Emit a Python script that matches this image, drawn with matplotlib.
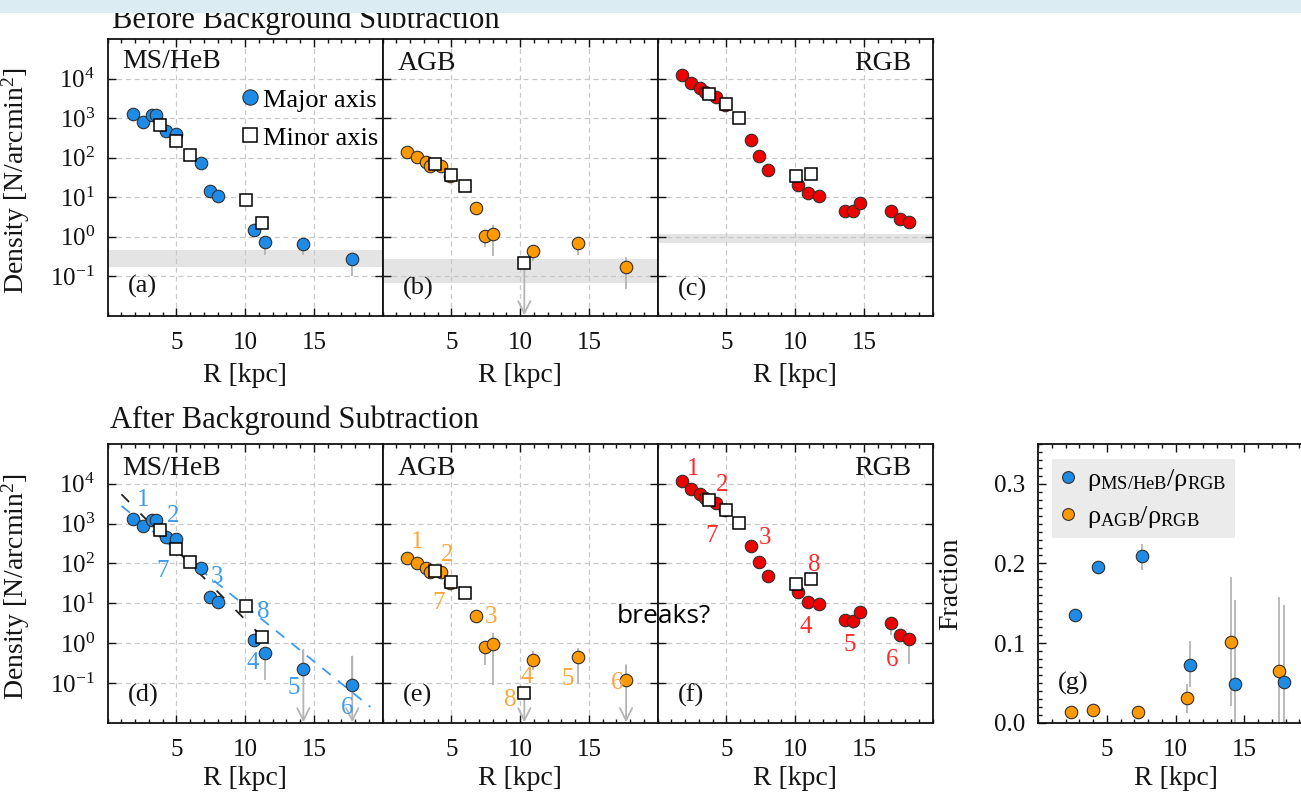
import numpy as np
import matplotlib
matplotlib.use('Agg')
import matplotlib.pyplot as plt
from matplotlib.lines import Line2D
from matplotlib.patches import Rectangle
from matplotlib.ticker import MultipleLocator, FixedLocator, NullLocator

plt.rcParams['font.family'] = 'Liberation Serif'
plt.rcParams['mathtext.fontset'] = 'custom'
plt.rcParams['mathtext.rm'] = 'Liberation Serif'
plt.rcParams['mathtext.it'] = 'Liberation Serif:italic'
plt.rcParams['mathtext.default'] = 'regular'

nan = np.nan

# ---- MS/HeB profile (major axis) ----
R_MS = [1.82, 2.55, 3.20, 3.49, 4.22, 4.97, 6.81, 7.44, 8.05, 10.64, 11.44, 14.23, 17.79]
MS_BEFORE = [1290, 815, 1200, 1200, 470, 400, 74, 14, 10.7, 1.45, 0.74, 0.66, 0.27]
MS_BEFORE_LO = [nan, nan, nan, nan, nan, nan, nan, nan, nan, nan, 0.35, 0.35, 0.10]
MS_BEFORE_HI = [nan] * 13
MS_AFTER = [1320, 850, 1200, 1200, 457, 400, 76, 14.1, 10.7, 1.2, 0.55, 0.22, 0.087]
MS_AFTER_LO = [nan, nan, nan, nan, nan, nan, nan, nan, nan, nan, 0.12, nan, nan]
MS_AFTER_HI = [nan, nan, nan, nan, nan, nan, nan, nan, nan, nan, 0.80, 0.68, 0.46]
MS_AFTER_UPLIM = [False] * 11 + [True, True]

# ---- AGB profile (major axis) ----
R_AGB = [1.79, 2.47, 3.15, 3.44, 4.22, 4.89, 6.81, 7.42, 8.04, 10.95, 14.20, 17.70]
AGB_BEFORE = [141, 102, 78, 62, 62, 34, 5.3, 1.03, 1.17, 0.44, 0.68, 0.17]
AGB_BEFORE_LO = [nan, nan, nan, nan, nan, nan, nan, 0.54, 0.32, 0.24, 0.34, 0.047]
AGB_BEFORE_HI = [nan, nan, nan, nan, nan, nan, nan, nan, 2.0, nan, nan, 0.30]
AGB_AFTER = [141, 102, 76, 60, 60, 32, 4.9, 0.81, 0.93, 0.37, 0.44, 0.117]
AGB_AFTER_LO = [nan, nan, nan, nan, nan, nan, nan, 0.28, 0.087, 0.21, 0.098, nan]
AGB_AFTER_HI = [nan, nan, nan, nan, nan, nan, nan, nan, 1.78, 0.65, 0.76, 0.28]
AGB_AFTER_UPLIM = [False] * 11 + [True]

# ---- RGB profile (major axis) ----
R_RGB = [1.76, 2.44, 3.09, 3.45, 4.23, 4.91, 6.78, 7.38, 7.99, 10.17, 10.95, 11.70,
         13.64, 14.17, 14.73, 16.96, 17.64, 18.31]
RGB_BEFORE = [12300, 7900, 5600, 4500, 3400, 2100, 280, 110, 48, 20, 12.5, 10.7,
              4.5, 4.5, 6.9, 4.5, 2.75, 2.4]
RGB_BEFORE_LO = [nan] * 18
RGB_BEFORE_HI = [nan] * 18
RGB_AFTER = [11700, 7400, 5400, 4500, 3300, 2150, 280, 110, 49, 19, 11, 9.5,
             3.8, 3.6, 6.2, 3.2, 1.6, 1.26]
RGB_AFTER_LO = [nan] * 12 + [2.6, 2.2, nan, 1.6, 1.2, 0.30]
RGB_AFTER_HI = [nan] * 18

# ---- minor axis profiles ----
RMIN_MS = [3.83, 4.95, 5.99, 10.04, 11.22]
MIN_MS_BEFORE = [660, 265, 117, 8.3, 2.27]
MIN_MS_AFTER = [676, 234, 107, 8.3, 1.45]
RMIN_AGB = [3.80, 4.94, 5.96, 10.30]
MIN_AGB_BEFORE = [67, 36, 19, 0.21]
MIN_AGB_AFTER = [63, 35, 18.6, 0.056]
MIN_AGB_UPLIM = [False, False, False, True]
RMIN_RGB = [3.70, 4.98, 5.88, 10.03, 11.16]
MIN_RGB_BEFORE = [4000, 2240, 980, 34, 39]
MIN_RGB_AFTER = [3900, 2240, 1050, 31, 41]

# background levels (N/arcmin^2)
BG_MS = (0.17, 0.46)
BG_AGB = (0.068, 0.277)
BG_RGB = (0.71, 1.14)

# exponential fits to MS/HeB: log10(rho) = log0 + slope * R
FIT_STEEP = (4.087, -0.35, 1.0, 12.0)
FIT_SHALLOW = (3.725, -0.279, 1.0, 19.1)

# region labels
LBL_MS = [('1', 2.59, 10**3.60), ('2', 4.77, 10**3.18), ('7', 3.97, 10**1.80),
          ('3', 7.97, 10**1.67), ('8', 11.32, 10**0.79), ('4', 10.52, 10**-0.51),
          ('5', 13.50, 10**-1.14), ('6', 17.38, 10**-1.64)]
LBL_AGB = [('1', 2.52, 10**2.55), ('2', 4.65, 10**2.22), ('7', 4.04, 10**1.00),
           ('3', 7.88, 10**0.66), ('4', 10.47, 10**-0.85), ('5', 13.45, 10**-0.91),
           ('6', 17.02, 10**-1.01), ('8', 9.31, 10**-1.42)]
LBL_RGB = [('1', 2.60, 10**4.36), ('2', 4.67, 10**3.98), ('7', 3.94, 10**2.68),
           ('3', 7.82, 10**2.64), ('8', 11.40, 10**1.97), ('4', 10.80, 10**0.41),
           ('5', 13.95, 10**-0.05), ('6', 17.08, 10**-0.43)]

# ---- density ratios ----
R_FRAC_MS = [2.69, 4.39, 7.59, 11.05, 14.33, 17.90]
FRAC_MS = [0.135, 0.195, 0.209, 0.0725, 0.0486, 0.0508]
FRAC_MS_LO = [nan, nan, 0.192, 0.045, -0.05, -0.05]
FRAC_MS_HI = [nan, nan, 0.225, 0.102, 0.154, 0.148]
R_FRAC_AGB = [2.38, 3.98, 7.27, 10.81, 14.04, 17.55]
FRAC_AGB = [0.0138, 0.016, 0.0138, 0.0307, 0.101, 0.0653]
FRAC_AGB_LO = [nan, nan, nan, 0.0126, 0.021, -0.05]
FRAC_AGB_HI = [nan, nan, nan, 0.0486, 0.183, 0.158]

C_MS, C_AGB, C_RGB = '#1e8ce6', '#ff9900', '#ee0000'
L_MS, L_AGB, L_RGB = '#3c9bef', '#ffa53c', '#ff2a2a'
ERRC = '#b4b4b4'
EDGE = '#303030'
TXT = '#141414'
MS_DOT = 9.0
MS_SQ = 8.0

W, H = 1301, 794
fig = plt.figure(figsize=(W / 100, H / 100), dpi=100)


def box(x0, y0, w, h):
    return [x0 / W, 1 - (y0 + h) / H, w / W, h / H]


def errbars(ax, x, y, lo, hi):
    x = np.asarray(x, float)
    y = np.asarray(y, float)
    lo = np.asarray(lo, float)
    hi = np.asarray(hi, float)
    dlo = np.where(np.isnan(lo), 0, y - lo)
    dhi = np.where(np.isnan(hi), 0, hi - y)
    ax.errorbar(x, y, yerr=[dlo, dhi], fmt='none', ecolor=ERRC, elinewidth=1.3,
                capsize=0, zorder=2)


def down_arrow(ax, x, ystart):
    ax.annotate('', xy=(x, 0.0102), xytext=(x, ystart),
                arrowprops=dict(arrowstyle='->', color=ERRC, lw=1.3,
                                mutation_scale=22, shrinkA=0, shrinkB=0),
                zorder=2)


def style(ax, left_labels, log=True, labelpad=3):
    ax.set_xlim(0, 20)
    ax.xaxis.set_major_locator(FixedLocator([5, 10, 15]))
    ax.xaxis.set_minor_locator(MultipleLocator(1))
    if log:
        ax.set_yscale('log')
        ax.set_ylim(1e-2, 1e5)
        ax.yaxis.set_major_locator(FixedLocator([1e-1, 1, 10, 100, 1e3, 1e4]))
        ax.yaxis.set_minor_locator(NullLocator())
        ax.grid(True, which='major', color='#c8c8c8', linestyle=(0, (4, 3)), lw=0.9)
        ax.set_axisbelow(True)
    ax.tick_params(which='both', direction='in', top=True, right=True,
                   labelsize=18, colors='#111111', width=1.0)
    ax.tick_params(which='major', length=6, pad=9)
    ax.tick_params(axis='x', which='major', pad=12)
    ax.tick_params(which='minor', length=3)
    if not left_labels:
        ax.tick_params(labelleft=False)
    for s in ax.spines.values():
        s.set_linewidth(1.3)
        s.set_color('#111111')
    ax.set_xlabel('R [kpc]', fontsize=20, color=TXT, labelpad=labelpad)


def panel(ax, x, y, lo, hi, color, xm, ym, bg=None, uplim=None, min_uplim=None):
    if bg is not None:
        ax.axhspan(bg[0], bg[1], color='#e4e4e4', lw=0, zorder=0.5)
    errbars(ax, x, y, lo, hi)
    if uplim is not None:
        for xi, hi_i, u in zip(x, hi, uplim):
            if u:
                down_arrow(ax, xi, hi_i)
    if min_uplim is not None:
        for xi, yi, u in zip(xm, ym, min_uplim):
            if u:
                down_arrow(ax, xi, yi)
    ax.plot(x, y, 'o', ms=MS_DOT, mfc=color, mec=EDGE, mew=0.8, zorder=3)
    ax.plot(xm, ym, 's', ms=MS_SQ, mfc='white', mec='black', mew=1.1, zorder=4)


def name(ax, txt, right=False, y=0.915):
    if right:
        ax.text(0.924, y, txt, transform=ax.transAxes, ha='right', va='center',
                fontsize=20, color=TXT)
    else:
        ax.text(0.054, y, txt, transform=ax.transAxes, ha='left', va='center',
                fontsize=20, color=TXT)


def tag(ax, txt, y=0.10):
    ax.text(0.074, y, txt, transform=ax.transAxes, ha='left', va='center',
            fontsize=19, color=TXT)


ylab = 'Density [N/arcmin$^2$]'

# ---------------- top row: before subtraction ----------------
ax_a = fig.add_axes(box(107.7, 39, 275, 276.7))
ax_b = fig.add_axes(box(382.7, 39, 275, 276.7))
ax_c = fig.add_axes(box(657.7, 39, 275, 276.7))

panel(ax_a, R_MS, MS_BEFORE, MS_BEFORE_LO, MS_BEFORE_HI, C_MS,
      RMIN_MS, MIN_MS_BEFORE, bg=BG_MS)
panel(ax_b, R_AGB, AGB_BEFORE, AGB_BEFORE_LO, AGB_BEFORE_HI, C_AGB,
      RMIN_AGB, MIN_AGB_BEFORE, bg=BG_AGB, min_uplim=MIN_AGB_UPLIM)
panel(ax_c, R_RGB, RGB_BEFORE, RGB_BEFORE_LO, RGB_BEFORE_HI, C_RGB,
      RMIN_RGB, MIN_RGB_BEFORE, bg=BG_RGB)

for ax, lab in zip([ax_a, ax_b, ax_c], [True, False, False]):
    style(ax, lab, labelpad=6)
ax_a.set_ylabel(ylab, fontsize=20, color=TXT)
ax_a.yaxis.set_label_coords(-0.276, 0.49)

name(ax_a, 'MS/HeB', y=0.917)
name(ax_b, 'AGB', y=0.912)
name(ax_c, 'RGB', right=True, y=0.913)
tag(ax_a, '(a)', 0.104)
tag(ax_b, '(b)', 0.10)
tag(ax_c, '(c)', 0.095)

handles = [Line2D([], [], marker='o', ls='', ms=11, mfc=C_MS, mec=EDGE, mew=0.8),
           Line2D([], [], marker='s', ls='', ms=9.5, mfc='white', mec='black', mew=1.1)]
ax_a.legend(handles, ['Major axis', 'Minor axis'], loc='upper left',
            bbox_to_anchor=(0.488, 0.822), frameon=False, fontsize=19,
            handlelength=0.6, handletextpad=0.2, labelspacing=0.55,
            borderpad=0, borderaxespad=0)

# ---------------- bottom row: after subtraction ----------------
ax_d = fig.add_axes(box(107.7, 444, 275, 278.7))
ax_e = fig.add_axes(box(382.7, 444, 275, 278.7))
ax_f = fig.add_axes(box(657.7, 444, 275, 278.7))

panel(ax_d, R_MS, MS_AFTER, MS_AFTER_LO, MS_AFTER_HI, C_MS,
      RMIN_MS, MIN_MS_AFTER, uplim=MS_AFTER_UPLIM)
panel(ax_e, R_AGB, AGB_AFTER, AGB_AFTER_LO, AGB_AFTER_HI, C_AGB,
      RMIN_AGB, MIN_AGB_AFTER, uplim=AGB_AFTER_UPLIM, min_uplim=MIN_AGB_UPLIM)
panel(ax_f, R_RGB, RGB_AFTER, RGB_AFTER_LO, RGB_AFTER_HI, C_RGB,
      RMIN_RGB, MIN_RGB_AFTER)

for log0, slope, r0, r1 in [FIT_STEEP]:
    rr = np.linspace(r0, r1, 50)
    ax_d.plot(rr, 10 ** (log0 + slope * rr), color='#222222', lw=1.3,
              ls=(0, (6, 9)), zorder=2.5)
for log0, slope, r0, r1 in [FIT_SHALLOW]:
    rr = np.linspace(r0, r1, 50)
    ax_d.plot(rr, 10 ** (log0 + slope * rr), color=L_MS, lw=1.3,
              ls=(0, (6, 5)), zorder=2.5)

for ax, lbls, col in [(ax_d, LBL_MS, L_MS), (ax_e, LBL_AGB, L_AGB), (ax_f, LBL_RGB, L_RGB)]:
    for t, x, y in lbls:
        ax.text(x, y, t, color=col, fontsize=18, ha='center', va='center', zorder=5)

for ax, lab in zip([ax_d, ax_e, ax_f], [True, False, False]):
    style(ax, lab)
ax_d.set_ylabel(ylab, fontsize=20, color=TXT)
ax_d.yaxis.set_label_coords(-0.276, 0.49)

name(ax_d, 'MS/HeB', y=0.913)
name(ax_e, 'AGB', y=0.913)
name(ax_f, 'RGB', right=True, y=0.913)
tag(ax_d, '(d)', 0.099)
tag(ax_e, '(e)', 0.099)
tag(ax_f, '(f)', 0.099)

# ---------------- ratio panel ----------------
ax_g = fig.add_axes(box(1038, 444, 275, 278.7))
errbars(ax_g, R_FRAC_MS, FRAC_MS, FRAC_MS_LO, FRAC_MS_HI)
errbars(ax_g, R_FRAC_AGB, FRAC_AGB, FRAC_AGB_LO, FRAC_AGB_HI)
ax_g.plot(R_FRAC_AGB, FRAC_AGB, 'o', ms=MS_DOT, mfc=C_AGB, mec=EDGE, mew=0.8, zorder=3)
ax_g.plot(R_FRAC_MS, FRAC_MS, 'o', ms=MS_DOT, mfc=C_MS, mec=EDGE, mew=0.8, zorder=3)
style(ax_g, True, log=False)
ax_g.set_ylim(0, 0.35)
ax_g.yaxis.set_major_locator(FixedLocator([0.0, 0.1, 0.2, 0.3]))
ax_g.yaxis.set_minor_locator(MultipleLocator(0.01))
ax_g.yaxis.set_major_formatter(plt.FormatStrFormatter('%.1f'))
ax_g.set_ylabel('Fraction', fontsize=20, color=TXT)
ax_g.yaxis.set_label_coords(-0.273, 0.5)
ax_g.text(0.074, 0.141, '(g)', transform=ax_g.transAxes, ha='left', va='center',
          fontsize=19, color=TXT)
gh = [Line2D([], [], marker='o', ls='', ms=8.5, mfc=C_MS, mec=EDGE, mew=0.8),
      Line2D([], [], marker='o', ls='', ms=8.5, mfc=C_AGB, mec=EDGE, mew=0.8)]
leg = ax_g.legend(gh, ['ρ$_{\\mathrm{MS/HeB}}$/ρ$_{\\mathrm{RGB}}$',
                       'ρ$_{\\mathrm{AGB}}$/ρ$_{\\mathrm{RGB}}$'],
                  loc='upper left', bbox_to_anchor=(0.05, 0.945), fontsize=19,
                  frameon=True, fancybox=False, facecolor='#ebebeb', edgecolor='none',
                  framealpha=1, handlelength=0.6, handletextpad=0.45,
                  labelspacing=0.4, borderpad=0.3, borderaxespad=0)

# ---------------- titles and notes ----------------
fig.text(111.7 / W, 1 - 27.7 / H, 'Before Background Subtraction', fontsize=22,
         color=TXT, va='baseline')
fig.text(110 / W, 1 - 428.3 / H, 'After Background Subtraction', fontsize=22,
         color=TXT, va='baseline')
fig.text(616.7 / W, 1 - 623.3 / H, 'breaks?', fontsize=19, family='Open Sans',
         color='black', va='baseline')
fig.add_artist(Rectangle((0, 1 - 13 / H), 1, 13 / H, transform=fig.transFigure,
                         facecolor='#dbedf3', edgecolor='none', zorder=10))

fig.savefig('out.png', dpi=100)
